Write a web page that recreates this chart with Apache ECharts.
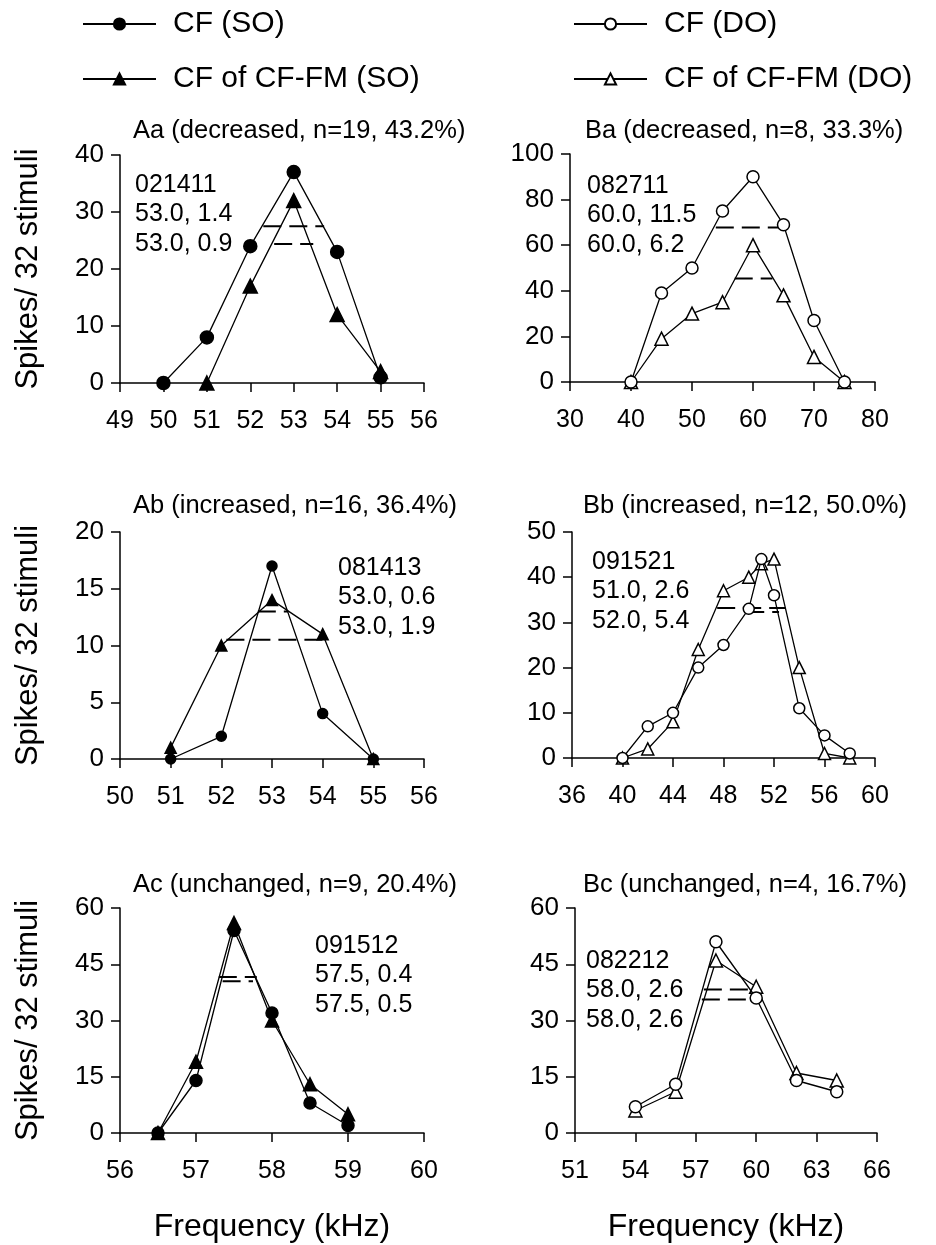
<!DOCTYPE html>
<html>
<head>
<meta charset="utf-8">
<script src="https://cdn.jsdelivr.net/npm/echarts@6/dist/echarts.min.js"></script>
<style>
html,body{margin:0;padding:0;background:#fff;}
#chart{width:936px;height:1245px;}
</style>
</head>
<body>
<div id="chart"></div>
<script>
// ---------------- DATA ----------------
const legendNames = ['CF (SO)', 'CF of CF-FM (SO)', 'CF (DO)', 'CF of CF-FM (DO)'];
const panelTitles = ['Aa (decreased, n=19, 43.2%)', 'Ba (decreased, n=8, 33.3%)',
  'Ab (increased, n=16, 36.4%)', 'Bb (increased, n=12, 50.0%)',
  'Ac (unchanged, n=9, 20.4%)', 'Bc (unchanged, n=4, 16.7%)'];
const panelNotes = [
  ['021411', '53.0, 1.4', '53.0, 0.9'],
  ['082711', '60.0, 11.5', '60.0, 6.2'],
  ['081413', '53.0, 0.6', '53.0, 1.9'],
  ['091521', '51.0, 2.6', '52.0, 5.4'],
  ['091512', '57.5, 0.4', '57.5, 0.5'],
  ['082212', '58.0, 2.6', '58.0, 2.6']
];
const yAxisTitle = 'Spikes/ 32 stimuli';
const xAxisTitle = 'Frequency (kHz)';

// x/y axis ranges [min, max, interval]
const xRanges = [[49, 56, 1], [30, 80, 10], [50, 56, 1], [36, 60, 4], [56, 60, 1], [51, 66, 3]];
const yRanges = [[0, 40, 10], [0, 100, 20], [0, 20, 5], [0, 50, 10], [0, 60, 15], [0, 60, 15]];

// Panel Aa
const freqAaCF = [50, 51, 52, 53, 54, 55];
const spikesAaCF = [0, 8, 24, 37, 23, 1];
const freqAaFM = [51, 52, 53, 54, 55];
const spikesAaFM = [0, 17, 32, 12, 2];
const bwAa = [[52.3, 53.7, 27.5], [52.55, 53.45, 24.4]];

// Panel Ba
const freqBaCF = [40, 45, 50, 55, 60, 65, 70, 75];
const spikesBaCF = [0, 39, 50, 75, 90, 69, 27, 0];
const freqBaFM = [40, 45, 50, 55, 60, 65, 70, 75];
const spikesBaFM = [0, 19, 30, 35, 60, 38, 11, 0];
const bwBa = [[53.9, 65.4, 67.8], [57.0, 63.2, 45.4]];

// Panel Ab
const freqAbCF = [51, 52, 53, 54, 55];
const spikesAbCF = [0, 2, 17, 4, 0];
const freqAbFM = [51, 52, 53, 54, 55];
const spikesAbFM = [1, 10, 14, 11, 0];
const bwAb = [[52.72, 53.32, 13.0], [52.1, 54.0, 10.5]];

// Panel Bb
const freqBbCF = [40, 42, 44, 46, 48, 50, 51, 52, 54, 56, 58];
const spikesBbCF = [0, 7, 10, 20, 25, 33, 44, 36, 11, 5, 1];
const freqBbFM = [40, 42, 44, 46, 48, 50, 51, 52, 54, 56, 58];
const spikesBbFM = [0, 2, 8, 24, 37, 40, 43, 44, 20, 1, 0];
const bwBb = [[49.8, 52.4, 32.3], [47.5, 52.9, 33.2]];

// Panel Ac
const freqAcCF = [56.5, 57, 57.5, 58, 58.5, 59];
const spikesAcCF = [0, 14, 54, 32, 8, 2];
const freqAcFM = [56.5, 57, 57.5, 58, 58.5, 59];
const spikesAcFM = [0, 19, 56, 30, 13, 5];
const bwAc = [[57.35, 57.75, 40.5], [57.3, 57.8, 41.6]];

// Panel Bc
const freqBcCF = [54, 56, 58, 60, 62, 64];
const spikesBcCF = [7, 13, 51, 36, 14, 11];
const freqBcFM = [54, 56, 58, 60, 62, 64];
const spikesBcFM = [6, 11, 46, 39, 16, 14];
const bwBc = [[57.4, 60.0, 38.3], [57.3, 59.9, 35.6]];

// ---------------- LAYOUT ----------------
const FONT = '"Liberation Sans", Arial, Helvetica, sans-serif';
const grids = [
  {left: 120, top: 155, width: 304, height: 228},
  {left: 570, top: 154, width: 305, height: 228},
  {left: 120, top: 532, width: 304, height: 227},
  {left: 572, top: 532, width: 303, height: 226},
  {left: 120, top: 908, width: 304, height: 225},
  {left: 575, top: 908, width: 302, height: 225}
];
const titlePos = [[133, 132], [585, 132], [133, 507], [583, 507], [133, 886], [583, 886]];
const notePos = [[135, 185], [587, 186], [338, 568], [592, 562], [315, 946], [586, 961]];
const symSize = [13, 12, 10, 11, 12, 12];

const black = '#000';
function pairs(xs, ys) { return xs.map((x, i) => [x, ys[i]]); }

const panels = [
  {cfX: freqAaCF, cfY: spikesAaCF, fmX: freqAaFM, fmY: spikesAaFM, bw: bwAa, open: false},
  {cfX: freqBaCF, cfY: spikesBaCF, fmX: freqBaFM, fmY: spikesBaFM, bw: bwBa, open: true},
  {cfX: freqAbCF, cfY: spikesAbCF, fmX: freqAbFM, fmY: spikesAbFM, bw: bwAb, open: false},
  {cfX: freqBbCF, cfY: spikesBbCF, fmX: freqBbFM, fmY: spikesBbFM, bw: bwBb, open: true},
  {cfX: freqAcCF, cfY: spikesAcCF, fmX: freqAcFM, fmY: spikesAcFM, bw: bwAc, open: false},
  {cfX: freqBcCF, cfY: spikesBcCF, fmX: freqBcFM, fmY: spikesBcFM, bw: bwBc, open: true}
];

const xAxes = [], yAxes = [], series = [], titles = [], graphics = [];
panels.forEach((p, gi) => {
  const isLeft = gi % 2 === 0;
  const isBottom = gi >= 4;
  xAxes.push({
    type: 'value', gridIndex: gi,
    min: xRanges[gi][0], max: xRanges[gi][1], interval: xRanges[gi][2],
    axisLine: {onZero: false, lineStyle: {color: black, width: 1.5}},
    axisTick: {length: 9, lineStyle: {color: black, width: 1.5}},
    axisLabel: {color: black, fontSize: 25, fontFamily: FONT, margin: 26},
    splitLine: {show: false},
    name: isBottom ? xAxisTitle : '',
    nameLocation: 'middle', nameGap: 78,
    nameTextStyle: {color: black, fontSize: 32, fontFamily: FONT}
  });
  yAxes.push({
    type: 'value', gridIndex: gi,
    min: yRanges[gi][0], max: yRanges[gi][1], interval: yRanges[gi][2],
    axisLine: {show: true, onZero: false, lineStyle: {color: black, width: 1.5}},
    axisTick: {show: true, length: 9, lineStyle: {color: black, width: 1.5}},
    axisLabel: {color: black, fontSize: 26, fontFamily: FONT, margin: 16},
    splitLine: {show: false},
    name: isLeft ? yAxisTitle : '',
    nameLocation: 'middle', nameGap: 76,
    nameTextStyle: {color: black, fontSize: 31, fontFamily: FONT}
  });
  const fill = p.open ? '#fff' : black;
  const cfName = p.open ? legendNames[2] : legendNames[0];
  const fmName = p.open ? legendNames[3] : legendNames[1];
  // dashed bandwidth lines first (under the curves)
  p.bw.forEach(b => {
    series.push({
      type: 'line', name: 'bandwidth', xAxisIndex: gi, yAxisIndex: gi,
      data: [[b[0], b[2]], [b[1], b[2]]], symbol: 'none', silent: true,
      lineStyle: {color: black, width: 2, type: [18, 8]}, z: 1
    });
  });
  series.push({
    type: 'line', name: fmName, xAxisIndex: gi, yAxisIndex: gi,
    data: pairs(p.fmX, p.fmY), symbol: 'triangle', symbolSize: symSize[gi] + 1,
    lineStyle: {color: black, width: 1.3},
    itemStyle: {color: fill, borderColor: black, borderWidth: 1.5}, z: 3
  });
  series.push({
    type: 'line', name: cfName, xAxisIndex: gi, yAxisIndex: gi,
    data: pairs(p.cfX, p.cfY), symbol: 'circle', symbolSize: symSize[gi],
    lineStyle: {color: black, width: 1.3},
    itemStyle: {color: fill, borderColor: black, borderWidth: 1.5}, z: 4
  });
  titles.push({
    text: panelTitles[gi], left: titlePos[gi][0], top: titlePos[gi][1] - 14, padding: 0,
    textStyle: {color: black, fontSize: 25.5, fontWeight: 'normal', fontFamily: FONT}
  });
  graphics.push({
    type: 'text', left: notePos[gi][0], top: notePos[gi][1] - 15,
    style: {text: panelNotes[gi].join('\n'), fill: black, fontSize: 25, fontFamily: FONT, lineHeight: 29.5}
  });
});

const legendCfg = (name, left, cy) => ({
  data: [name], left: left, top: cy - 16, padding: 0,
  itemWidth: 73, itemHeight: 14, selectedMode: false,
  textStyle: {color: black, fontSize: 30, fontFamily: FONT, padding: [0, 0, 0, 12]}
});

const option = {
  animation: false,
  backgroundColor: '#fff',
  title: titles,
  legend: [
    legendCfg(legendNames[0], 82, 25),
    legendCfg(legendNames[1], 82, 80),
    legendCfg(legendNames[2], 573, 25),
    legendCfg(legendNames[3], 573, 80)
  ],
  grid: grids,
  xAxis: xAxes,
  yAxis: yAxes,
  series: series,
  graphic: graphics
};

const chart = echarts.init(document.getElementById('chart'), null, {renderer: 'canvas'});
chart.setOption(option);
</script>
</body>
</html>
